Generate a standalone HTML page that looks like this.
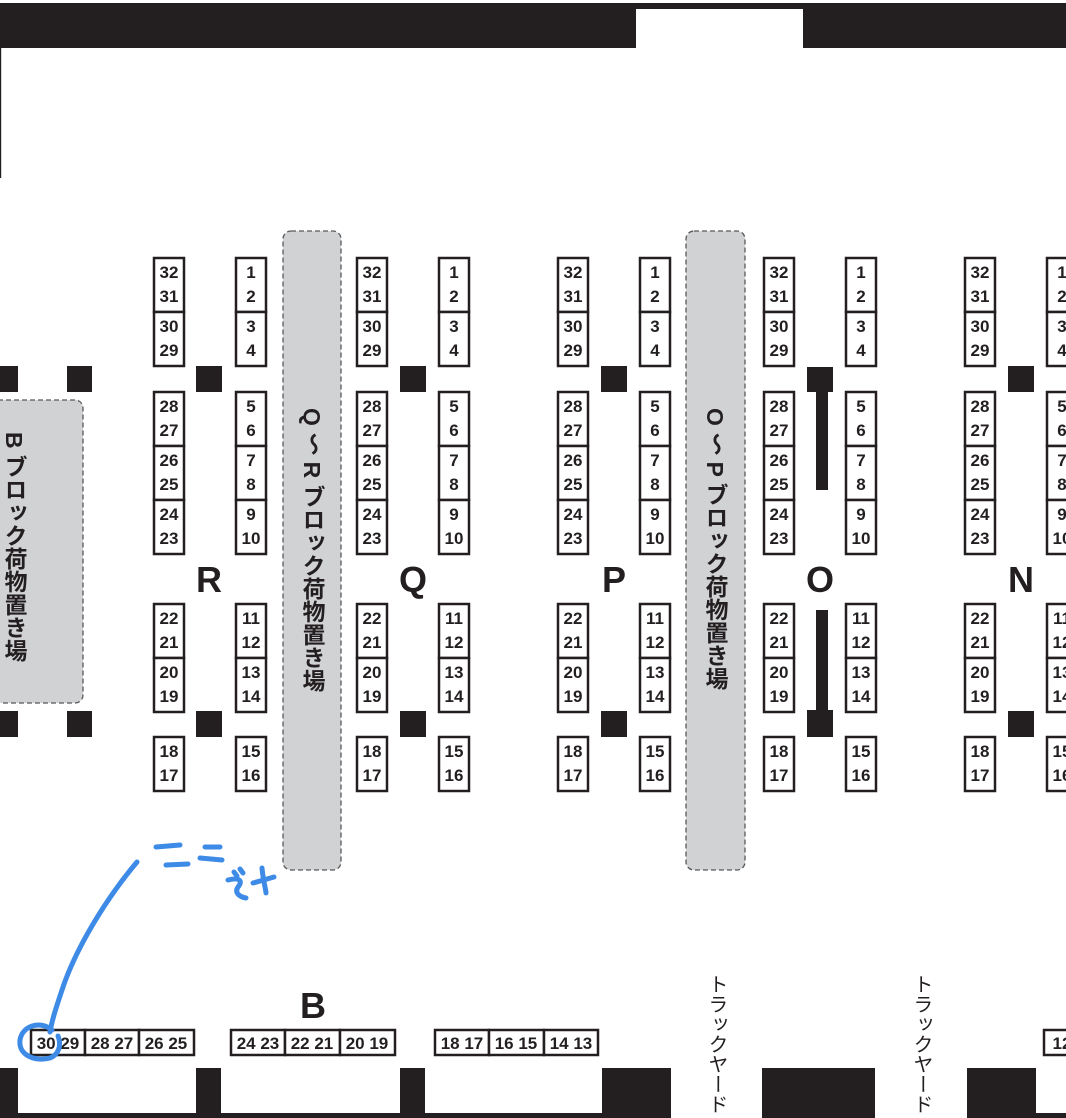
<!DOCTYPE html>
<html><head><meta charset="utf-8"><style>
html,body{margin:0;padding:0;background:#fff;}
svg{display:block;}
.n{font-family:"Liberation Sans","Noto Sans CJK JP",sans-serif;font-size:17px;font-weight:bold;fill:#231f20;text-anchor:middle;}
.big{font-family:"Liberation Sans",sans-serif;font-size:36px;font-weight:bold;fill:#231f20;text-anchor:middle;}
.v{font-family:"Liberation Sans","Noto Sans CJK JP",sans-serif;font-size:23px;font-weight:bold;fill:#231f20;writing-mode:vertical-rl;}
.t{font-family:"Liberation Sans","Noto Sans CJK JP",sans-serif;font-size:20px;fill:#231f20;writing-mode:vertical-rl;}
</style></head><body>
<svg width="1066" height="1118" viewBox="0 0 1066 1118" xmlns="http://www.w3.org/2000/svg">
<defs>
<g id="cells" fill="#fff" stroke="#231f20" stroke-width="2.5">
<rect x="1" y="258" width="30" height="54"/><rect x="1" y="312" width="30" height="54"/>
<rect x="1" y="392" width="30" height="54"/><rect x="1" y="446" width="30" height="54"/><rect x="1" y="500" width="30" height="54"/>
<rect x="1" y="604" width="30" height="54"/><rect x="1" y="658" width="30" height="54"/>
<rect x="1" y="737" width="30" height="54"/>
</g>
</defs>
<rect x="0" y="3" width="1066" height="45" fill="#231f20"/>
<rect x="636" y="9" width="167" height="40" fill="#fff"/>
<rect x="0" y="48" width="1.2" height="130" fill="#231f20"/>

<rect x="-10" y="400" width="93" height="303" rx="8" fill="#d1d2d4" stroke="#58595b" stroke-width="1.3" stroke-dasharray="5,3"/>
<rect x="283" y="231" width="58" height="639" rx="8" fill="#d1d2d4" stroke="#58595b" stroke-width="1.3" stroke-dasharray="5,3"/>
<rect x="686" y="231" width="59" height="639" rx="8" fill="#d1d2d4" stroke="#58595b" stroke-width="1.3" stroke-dasharray="5,3"/>
<text class="v" x="14" y="432">B ブロック荷物置き場</text>
<text class="v" x="312" y="408">Q ～ R ブロック荷物置き場</text>
<text class="v" x="715" y="408">O ～ P ブロック荷物置き場</text>

<g fill="#231f20">
<rect x="0" y="366" width="18" height="26"/><rect x="67" y="366" width="25" height="26"/>
<rect x="0" y="711" width="18" height="26"/><rect x="67" y="711" width="25" height="26"/>
<rect x="196" y="366" width="26" height="26"/><rect x="196" y="711" width="26" height="26"/>
<rect x="400" y="366" width="26" height="26"/><rect x="400" y="711" width="26" height="26"/>
<rect x="601" y="366" width="26" height="26"/><rect x="601" y="711" width="26" height="26"/>
<rect x="1008" y="366" width="26" height="26"/><rect x="1008" y="711" width="26" height="26"/>
<rect x="807" y="367" width="26" height="25"/><rect x="816" y="392" width="12" height="98"/>
<rect x="816" y="610" width="12" height="100"/><rect x="807" y="710" width="26" height="27"/>
</g>

<use href="#cells" x="153"/><use href="#cells" x="235"/>
<use href="#cells" x="356"/><use href="#cells" x="438"/>
<use href="#cells" x="557"/><use href="#cells" x="639"/>
<use href="#cells" x="763"/><use href="#cells" x="845"/>
<use href="#cells" x="964"/><use href="#cells" x="1046"/>

<text class="n"><tspan x="169" y="278">32</tspan><tspan x="169" y="302">31</tspan><tspan x="169" y="332">30</tspan><tspan x="169" y="356">29</tspan><tspan x="169" y="412">28</tspan><tspan x="169" y="436">27</tspan><tspan x="169" y="466">26</tspan><tspan x="169" y="490">25</tspan><tspan x="169" y="520">24</tspan><tspan x="169" y="544">23</tspan><tspan x="169" y="624">22</tspan><tspan x="169" y="648">21</tspan><tspan x="169" y="678">20</tspan><tspan x="169" y="702">19</tspan><tspan x="169" y="757">18</tspan><tspan x="169" y="781">17</tspan></text>
<text class="n"><tspan x="372" y="278">32</tspan><tspan x="372" y="302">31</tspan><tspan x="372" y="332">30</tspan><tspan x="372" y="356">29</tspan><tspan x="372" y="412">28</tspan><tspan x="372" y="436">27</tspan><tspan x="372" y="466">26</tspan><tspan x="372" y="490">25</tspan><tspan x="372" y="520">24</tspan><tspan x="372" y="544">23</tspan><tspan x="372" y="624">22</tspan><tspan x="372" y="648">21</tspan><tspan x="372" y="678">20</tspan><tspan x="372" y="702">19</tspan><tspan x="372" y="757">18</tspan><tspan x="372" y="781">17</tspan></text>
<text class="n"><tspan x="573" y="278">32</tspan><tspan x="573" y="302">31</tspan><tspan x="573" y="332">30</tspan><tspan x="573" y="356">29</tspan><tspan x="573" y="412">28</tspan><tspan x="573" y="436">27</tspan><tspan x="573" y="466">26</tspan><tspan x="573" y="490">25</tspan><tspan x="573" y="520">24</tspan><tspan x="573" y="544">23</tspan><tspan x="573" y="624">22</tspan><tspan x="573" y="648">21</tspan><tspan x="573" y="678">20</tspan><tspan x="573" y="702">19</tspan><tspan x="573" y="757">18</tspan><tspan x="573" y="781">17</tspan></text>
<text class="n"><tspan x="779" y="278">32</tspan><tspan x="779" y="302">31</tspan><tspan x="779" y="332">30</tspan><tspan x="779" y="356">29</tspan><tspan x="779" y="412">28</tspan><tspan x="779" y="436">27</tspan><tspan x="779" y="466">26</tspan><tspan x="779" y="490">25</tspan><tspan x="779" y="520">24</tspan><tspan x="779" y="544">23</tspan><tspan x="779" y="624">22</tspan><tspan x="779" y="648">21</tspan><tspan x="779" y="678">20</tspan><tspan x="779" y="702">19</tspan><tspan x="779" y="757">18</tspan><tspan x="779" y="781">17</tspan></text>
<text class="n"><tspan x="980" y="278">32</tspan><tspan x="980" y="302">31</tspan><tspan x="980" y="332">30</tspan><tspan x="980" y="356">29</tspan><tspan x="980" y="412">28</tspan><tspan x="980" y="436">27</tspan><tspan x="980" y="466">26</tspan><tspan x="980" y="490">25</tspan><tspan x="980" y="520">24</tspan><tspan x="980" y="544">23</tspan><tspan x="980" y="624">22</tspan><tspan x="980" y="648">21</tspan><tspan x="980" y="678">20</tspan><tspan x="980" y="702">19</tspan><tspan x="980" y="757">18</tspan><tspan x="980" y="781">17</tspan></text>

<text class="n"><tspan x="251" y="278">1</tspan><tspan x="251" y="302">2</tspan><tspan x="251" y="332">3</tspan><tspan x="251" y="356">4</tspan><tspan x="251" y="412">5</tspan><tspan x="251" y="436">6</tspan><tspan x="251" y="466">7</tspan><tspan x="251" y="490">8</tspan><tspan x="251" y="520">9</tspan><tspan x="251" y="544">10</tspan><tspan x="251" y="624">11</tspan><tspan x="251" y="648">12</tspan><tspan x="251" y="678">13</tspan><tspan x="251" y="702">14</tspan><tspan x="251" y="757">15</tspan><tspan x="251" y="781">16</tspan></text>
<text class="n"><tspan x="454" y="278">1</tspan><tspan x="454" y="302">2</tspan><tspan x="454" y="332">3</tspan><tspan x="454" y="356">4</tspan><tspan x="454" y="412">5</tspan><tspan x="454" y="436">6</tspan><tspan x="454" y="466">7</tspan><tspan x="454" y="490">8</tspan><tspan x="454" y="520">9</tspan><tspan x="454" y="544">10</tspan><tspan x="454" y="624">11</tspan><tspan x="454" y="648">12</tspan><tspan x="454" y="678">13</tspan><tspan x="454" y="702">14</tspan><tspan x="454" y="757">15</tspan><tspan x="454" y="781">16</tspan></text>
<text class="n"><tspan x="655" y="278">1</tspan><tspan x="655" y="302">2</tspan><tspan x="655" y="332">3</tspan><tspan x="655" y="356">4</tspan><tspan x="655" y="412">5</tspan><tspan x="655" y="436">6</tspan><tspan x="655" y="466">7</tspan><tspan x="655" y="490">8</tspan><tspan x="655" y="520">9</tspan><tspan x="655" y="544">10</tspan><tspan x="655" y="624">11</tspan><tspan x="655" y="648">12</tspan><tspan x="655" y="678">13</tspan><tspan x="655" y="702">14</tspan><tspan x="655" y="757">15</tspan><tspan x="655" y="781">16</tspan></text>
<text class="n"><tspan x="861" y="278">1</tspan><tspan x="861" y="302">2</tspan><tspan x="861" y="332">3</tspan><tspan x="861" y="356">4</tspan><tspan x="861" y="412">5</tspan><tspan x="861" y="436">6</tspan><tspan x="861" y="466">7</tspan><tspan x="861" y="490">8</tspan><tspan x="861" y="520">9</tspan><tspan x="861" y="544">10</tspan><tspan x="861" y="624">11</tspan><tspan x="861" y="648">12</tspan><tspan x="861" y="678">13</tspan><tspan x="861" y="702">14</tspan><tspan x="861" y="757">15</tspan><tspan x="861" y="781">16</tspan></text>
<text class="n"><tspan x="1062" y="278">1</tspan><tspan x="1062" y="302">2</tspan><tspan x="1062" y="332">3</tspan><tspan x="1062" y="356">4</tspan><tspan x="1062" y="412">5</tspan><tspan x="1062" y="436">6</tspan><tspan x="1062" y="466">7</tspan><tspan x="1062" y="490">8</tspan><tspan x="1062" y="520">9</tspan><tspan x="1062" y="544">10</tspan><tspan x="1062" y="624">11</tspan><tspan x="1062" y="648">12</tspan><tspan x="1062" y="678">13</tspan><tspan x="1062" y="702">14</tspan><tspan x="1062" y="757">15</tspan><tspan x="1062" y="781">16</tspan></text>

<text class="big" x="209" y="592">R</text>
<text class="big" x="413" y="592">Q</text>
<text class="big" x="614" y="592">P</text>
<text class="big" x="820" y="592">O</text>
<text class="big" x="1021" y="592">N</text>
<text class="big" x="313" y="1018">B</text>

<g fill="#fff" stroke="#231f20" stroke-width="2.5">
<rect x="31" y="1030" width="54" height="25"/><rect x="85" y="1030" width="54" height="25"/><rect x="139" y="1030" width="55" height="25"/>
<rect x="231" y="1030" width="54" height="25"/><rect x="285" y="1030" width="55" height="25"/><rect x="340" y="1030" width="55" height="25"/>
<rect x="435" y="1030" width="54" height="25"/><rect x="489" y="1030" width="55" height="25"/><rect x="544" y="1030" width="54" height="25"/>
<rect x="1044" y="1030" width="40" height="25"/>
</g>
<g class="n">
<text x="58" y="1049">30 29</text><text x="112" y="1049">28 27</text><text x="166" y="1049">26 25</text>
<text x="258" y="1049">24 23</text><text x="312" y="1049">22 21</text><text x="367" y="1049">20 19</text>
<text x="462" y="1049">18 17</text><text x="516" y="1049">16 15</text><text x="571" y="1049">14 13</text>
<text x="1062" y="1049">12</text>
</g>

<g fill="#231f20">
<rect x="0" y="1068" width="18" height="50"/>
<rect x="196" y="1068" width="25" height="50"/>
<rect x="400" y="1068" width="25" height="50"/>
<rect x="602" y="1068" width="69" height="50"/>
<rect x="762" y="1068" width="113" height="50"/>
<rect x="967" y="1068" width="69" height="50"/>
<rect x="0" y="1113" width="602" height="5"/>
<rect x="1035" y="1113" width="31" height="5"/>
</g>
<text class="t" x="716" y="974">トラックヤード</text>
<text class="t" x="921" y="974">トラックヤード</text>

<g fill="none" stroke="#3d8be6" stroke-linecap="round" stroke-width="5">
<path d="M137 862 C105 900 75 950 62 990 C56 1008 52 1020 50 1032"/>
<path d="M52 1030 C40 1020 22 1026 20 1040 C18 1055 35 1062 50 1058 C58 1055 62 1046 58 1036"/>
<path d="M156 847 L180 845"/><path d="M166 865 L188 864"/>
<path d="M205 847 L220 847"/><path d="M200 858 L222 860"/>
<path d="M228 880 C240 877 243 881 238 887 C234 893 240 897 246 898"/>
<path d="M240 869 L243 873"/><path d="M234 872 L237 876"/>
<path d="M253 883 L274 877"/><path d="M262 868 C263 880 266 890 266 893"/>
</g>
</svg>
</body></html>
